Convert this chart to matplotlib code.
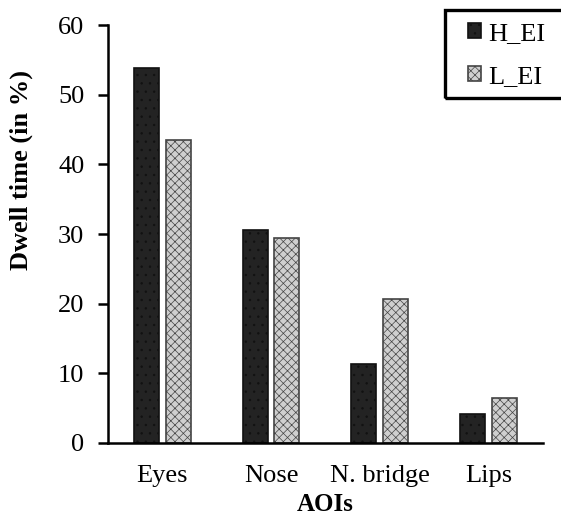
import matplotlib.pyplot as plt
import matplotlib.patches as mpatches
import numpy as np

plt.rcParams['font.family'] = ['Liberation Serif', 'DejaVu Serif']
plt.rcParams['hatch.linewidth'] = 0.5

aois = ["Eyes", "Nose", "N. bridge", "Lips"]
h_ei = [53.9, 30.6, 11.4, 4.2]
l_ei = [43.5, 29.4, 20.7, 6.5]
y_ticks = [0, 10, 20, 30, 40, 50, 60]

fig = plt.figure(figsize=(5.61, 5.23), dpi=100)
ax = fig.add_axes([0.1925, 0.153, 0.775, 0.799])

x = np.arange(len(aois))
w = 0.23
off = 0.145
plt.rcParams['hatch.color'] = '#4a4a4a'
ax.bar(x - off, h_ei, w, color='#232323', edgecolor='#111111',
       hatch='..', linewidth=1.2, label='H_EI')
plt.rcParams['hatch.color'] = '#a0a0a0'
ax.bar(x + off, l_ei, w, color='#cfcfcf', edgecolor='#444444',
       hatch='xxxx', linewidth=1.2, label='L_EI')

ax.set_xlim(-0.5, 3.5)
ax.set_ylim(0, 60)
ax.set_yticks(y_ticks)
ax.set_xticks(x)
ax.set_xticklabels(aois, fontsize=19)
ax.tick_params(axis='x', length=0, pad=16)
ax.tick_params(axis='y', labelsize=19, length=7, width=1.8, direction='out', pad=10)
ax.spines['top'].set_visible(False)
ax.spines['right'].set_visible(False)
ax.spines['left'].set_linewidth(1.8)
ax.spines['bottom'].set_linewidth(1.8)

ax.set_xlabel("AOIs", fontsize=18, fontweight='bold', labelpad=4)
fig.text(21 / 561, 1 - 170 / 523, "Dwell time (in %)", rotation=90,
         ha='center', va='center', fontsize=19, fontweight='bold')

# legend: entries without frame, plus a separate box that runs off the right edge
leg = fig.legend(loc='upper left', bbox_to_anchor=(468 / 561, 1 - 23 / 523),
                 fontsize=19, frameon=False, borderpad=0, borderaxespad=0,
                 handlelength=0.5, handleheight=0.5, handletextpad=0.25,
                 labelspacing=0.8)
frame = mpatches.Rectangle((445 / 561, 1 - 98 / 523), 130 / 561, 88 / 523,
                           transform=fig.transFigure, fill=False,
                           edgecolor='black', linewidth=2.4, clip_on=False)
fig.patches.append(frame)

plt.savefig('out.png', dpi=100)
plt.close()
